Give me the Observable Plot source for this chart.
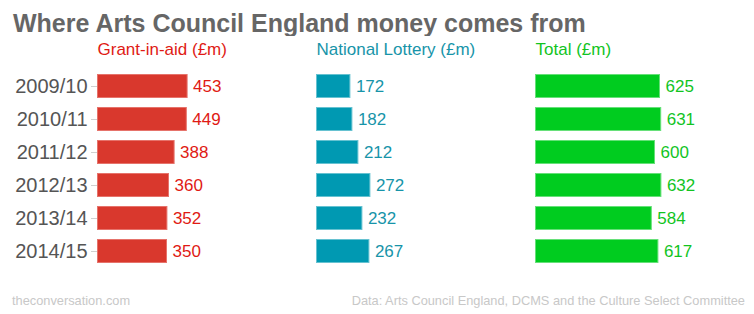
<!DOCTYPE html>
<html>
<head>
<meta charset="utf-8">
<script src="https://cdn.jsdelivr.net/npm/d3@7"></script>
<script src="https://cdn.jsdelivr.net/npm/@observablehq/plot@0.6"></script>
<style>
  html, body { margin: 0; padding: 0; background: #fff; }
  #wrap { position: relative; width: 754px; height: 314px; overflow: hidden; font-family: "Liberation Sans", Arial, Helvetica, sans-serif; }
  #title { position: absolute; left: 13px; top: 10.5px; font-size: 25px; line-height: 25px; font-weight: bold; color: #666; white-space: nowrap; }
  #chart { position: absolute; left: 0; top: 36px; }
  .foot { position: absolute; top: 293.5px; font-size: 12.8px; line-height: 13px; color: #c8c8c8; white-space: nowrap; }
  #src { left: 12px; }
  #data { right: 9px; }
</style>
</head>
<body>
<div id="wrap">
  <div id="title">Where Arts Council England money comes from</div>
  <div id="chart"></div>
  <div class="foot" id="src">theconversation.com</div>
  <div class="foot" id="data">Data: Arts Council England, DCMS and the Culture Select Committee</div>
</div>
<script>
const years = ["2009/10", "2010/11", "2011/12", "2012/13", "2013/14", "2014/15"];
const grantInAid = [453, 449, 388, 360, 352, 350];
const nationalLottery = [172, 182, 212, 272, 232, 267];
const totalFunding = [625, 631, 600, 632, 584, 617];
const seriesNames = ["Grant-in-aid (£m)", "National Lottery (£m)", "Total (£m)"];
const barColors = ["#d9382d", "#0099b2", "#00cc1f"];
const barStrokes = ["#e6736b", "#66c2d1", "#66e079"];
const textColors = ["#e01a14", "#1794a9", "#12c41f"];

const seriesValues = [grantInAid, nationalLottery, totalFunding];
const rows = [];
seriesNames.forEach((s, i) => {
  years.forEach((y, j) => rows.push({series: s, year: y, value: seriesValues[i][j], idx: i}));
});
const headers = seriesNames.map((s, i) => ({series: s, idx: i}));

const chart = Plot.plot({
  width: 754,
  height: 244,
  marginLeft: 97,
  marginRight: 19,
  marginTop: 32.3,
  marginBottom: 11.7,
  style: {fontFamily: "'Liberation Sans', Arial, Helvetica, sans-serif", background: "white"},
  fx: {domain: seriesNames, paddingInner: 0.0868, paddingOuter: 0, axis: null, label: null},
  x: {domain: [0, 1000], axis: null},
  y: {domain: years, paddingInner: 0.265, paddingOuter: 0.1325, align: 0.5, label: null, axis: null},
  marks: [
    Plot.axisY({tickSize: 6, tickPadding: 4, fontSize: 20, fill: "#555", stroke: "#d0d0d0", label: null}),
    Plot.barX(rows, {
      fx: "series", y: "year", x: "value",
      fill: d => barColors[d.idx], stroke: d => barStrokes[d.idx], strokeWidth: 1, inset: 0.5
    }),
    Plot.text(rows, {
      fx: "series", y: "year", x: "value", text: d => String(d.value),
      dx: 5, textAnchor: "start", fontSize: 17, fill: d => textColors[d.idx]
    }),
    Plot.text(headers, {
      fx: "series", text: "series", frameAnchor: "top-left", lineAnchor: "top",
      dy: -25.4, fontSize: 17, fill: d => textColors[d.idx]
    })
  ]
});
document.getElementById("chart").appendChild(chart);
</script>
</body>
</html>
